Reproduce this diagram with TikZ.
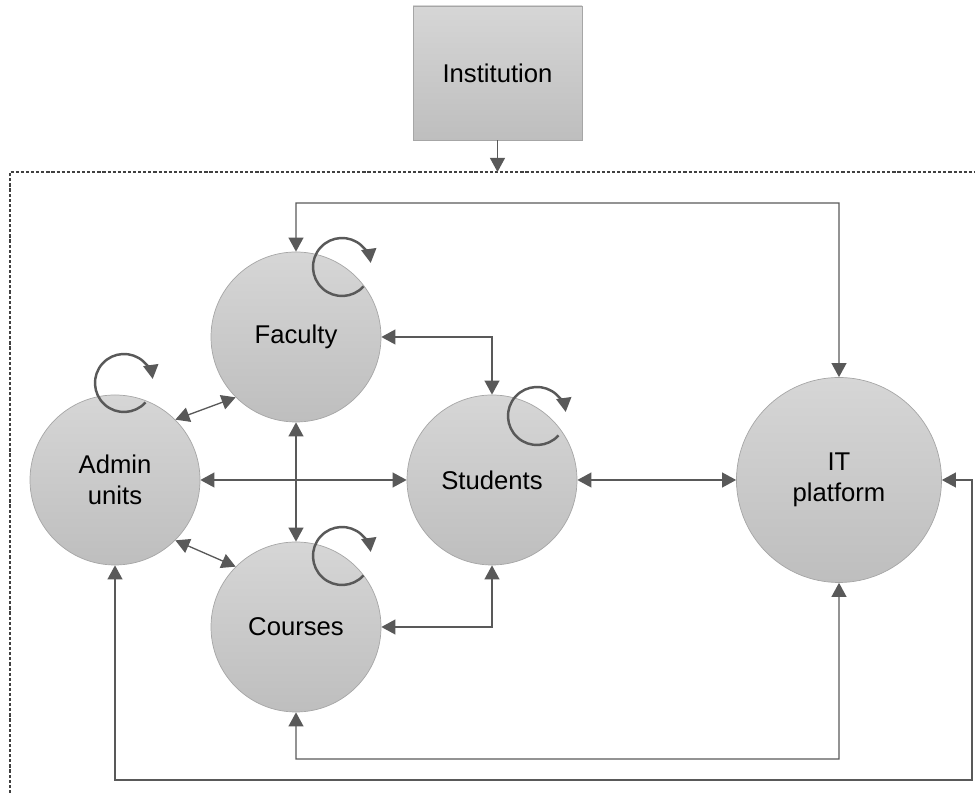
\documentclass[tikz,border=0pt]{standalone}
\usepackage{fontspec}
\setmainfont{Liberation Sans}
\usetikzlibrary{positioning}
\usetikzlibrary{arrows.meta}
\definecolor{linegray}{HTML}{595959}
\definecolor{rimgray}{HTML}{A6A6A6}
\definecolor{topgray}{HTML}{D6D6D6}
\definecolor{botgray}{HTML}{BEBEBE}
\definecolor{framegray}{HTML}{404040}

\begin{document}
\begin{tikzpicture}[node distance=10mm,on grid,>={Triangle[length=8pt,width=8.5pt]},
		unit/.style={circle,draw=rimgray,top color=topgray,bottom color=botgray,minimum size=3.4cm,inner sep=0pt,align=center,font=\fontsize{14.6}{17.5}\selectfont},
		box/.style={rectangle,draw=rimgray,top color=topgray,bottom color=botgray,minimum width=3.38cm,minimum height=2.68cm,font=\fontsize{14.6}{17.5}\selectfont},
		conn/.style={linegray,line width=0.75pt,<->},
		selfarc/.style={linegray,line width=1.4pt,->},
		frame/.style={framegray,line width=0.6pt,dash pattern=on 1.8pt off 1.1pt}]
		\useasboundingbox (0,0) rectangle (19.5,-15.86);
		
		\node[box]   (inst)     at (9.95,-1.46)          {Institution};
		\node[unit]  (admin)    at (2.3,-9.6)            {Admin\\units};
		\node[unit]  (faculty)  [above right=2.86cm and 3.62cm of admin] {Faculty};
		\node[unit]  (courses)  [below=5.8cm of faculty] {Courses};
		\node[unit]  (students) [right=7.54cm of admin]  {Students};
		\node[unit,minimum size=4.1cm] (itp) [right=6.94cm of students] {IT\\platform};
		
		\coordinate (ftop)    at (9.95,-3.44);
		\coordinate (topbend) at (16.78,-4.06);
		\coordinate (lowbend) at (16.78,-15.18);
		\coordinate (outbend) at (19.44,-15.6);
		
		\draw[frame] (0.2,-15.86) |- (19.5,-3.44);
		\draw[conn,->] (inst) -- (ftop);
		
		\draw[conn] (faculty.north) |- (topbend) -- (itp.north);
		\draw[conn] (faculty.east) -| (students.north);
		\draw[conn] (admin.45) -- (faculty.225);
		\draw[conn] (admin.-45) -- (courses.135);
		\draw[conn] (admin.east) -- (students.west);
		\draw[conn] (faculty.south) -- (courses.north);
		\draw[conn] (students.east) -- (itp.west);
		\draw[conn] (students.south) |- (courses.east);
		\draw[conn] (courses.south) |- (lowbend) -- (itp.south);
		\draw[conn] (admin.south) |- (outbend) |- (itp.east);
		
		% self loops
		\draw[selfarc] ([shift={(0.18,1.94)}]admin.center) ++(-42:0.58) arc[start angle=-42,end angle=-352,radius=0.58];
		\draw[selfarc] ([shift={(0.92,1.4)}]faculty.center) ++(-42:0.58) arc[start angle=-42,end angle=-352,radius=0.58];
		\draw[selfarc] ([shift={(0.9,1.28)}]students.center) ++(-42:0.58) arc[start angle=-42,end angle=-352,radius=0.58];
		\draw[selfarc] ([shift={(0.92,1.42)}]courses.center) ++(-42:0.58) arc[start angle=-42,end angle=-352,radius=0.58];
\end{tikzpicture}
\end{document}
